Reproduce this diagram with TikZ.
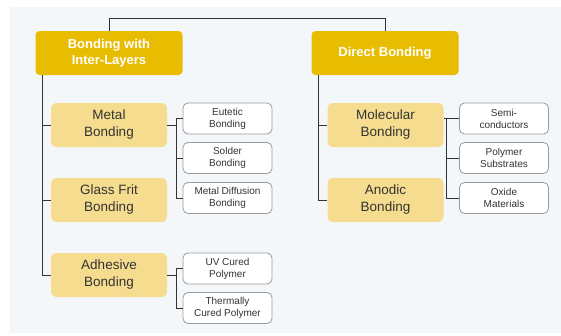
\documentclass[tikz,border=0pt]{standalone}
\usepackage{fontspec}
\setmainfont{Liberation Sans}
\definecolor{bgc}{HTML}{F4F7FA}
\definecolor{gold}{HTML}{E8BC00}
\definecolor{lgold}{HTML}{F5DC8E}
\definecolor{lnc}{HTML}{333333}
\definecolor{bdc}{HTML}{9A9A9A}
\definecolor{txc}{HTML}{333333}
\begin{document}
\begin{tikzpicture}[x=1pt,y=-1pt,
  topbox/.style={fill=gold,rounded corners=4pt,minimum width=147pt,minimum height=44pt,
    text=white,font=\fontsize{13}{16}\selectfont\bfseries,align=center,inner sep=0pt},
  midbox/.style={fill=lgold,rounded corners=5pt,minimum width=116pt,minimum height=44pt,
    text=txc,font=\fontsize{13.5}{17}\selectfont,align=center,inner sep=0pt},
  subbox/.style={fill=white,draw=bdc,line width=0.8pt,rounded corners=5pt,minimum width=89pt,minimum height=31pt,
    text=txc,font=\fontsize{10}{12}\selectfont,align=center,inner sep=0pt},
  conn/.style={draw=lnc,line width=0.9pt}]
\useasboundingbox (0,0) rectangle (561,335);
\fill[white] (0,0) rectangle (561,335);
\fill[bgc] (10,7) rectangle (561,333);
% top
\node[topbox] (il) at (109,53) {Bonding with\\Inter-Layers};
\node[topbox] (db) at (385,53) {Direct Bonding};
% mid left
\node[midbox] (mb) at (109,125) {Metal\\Bonding};
\node[midbox] (gf) at (109,200) {Glass Frit\\Bonding};
\node[midbox] (ab) at (109,275) {Adhesive\\Bonding};
% mid right
\node[midbox] (mo) at (385.5,125) {Molecular\\Bonding};
\node[midbox] (an) at (385.5,200) {Anodic\\Bonding};
% subs left
\node[subbox] (eu) at (227.5,118.5) {Eutetic\\Bonding};
\node[subbox] (so) at (227.5,158) {Solder\\Bonding};
\node[subbox] (md) at (227.5,198) {Metal Diffusion\\Bonding};
\node[subbox] (uv) at (227.5,268.5) {UV Cured\\Polymer};
\node[subbox] (tc) at (227.5,308) {Thermally\\Cured Polymer};
% subs right
\node[subbox] (sc) at (504,118.5) {Semi-\\conductors};
\node[subbox] (ps) at (504,158) {Polymer\\Substrates};
\node[subbox] (om) at (504,198) {Oxide\\Materials};
% coordinates
\coordinate (tl) at (109,18);
\coordinate (tr) at (385,18);
\coordinate (ltr) at (42,75);
\coordinate (rtr) at (318,75);
\coordinate (lb) at (176,0);
\coordinate (rb) at (446,0);
% top connector
\draw[conn] (il.north) -- (il.north |- tl) -- (db.north |- tr) -- (db.north);
% left trunk
\draw[conn] (il.south -| ltr) -- (ab.west -| ltr) -- (ab.west);
\draw[conn] (mb.west -| ltr) -- (mb.west);
\draw[conn] (gf.west -| ltr) -- (gf.west);
% right trunk
\draw[conn] (db.south -| rtr) -- (an.west -| rtr) -- (an.west);
\draw[conn] (mo.west -| rtr) -- (mo.west);
% metal bonding bracket
\draw[conn] (mb.east) -- (mb.east -| lb);
\draw[conn] (eu.west) -- (eu.west -| lb) -- (md.west -| lb) -- (md.west);
\draw[conn] (so.west -| lb) -- (so.west);
% adhesive bracket
\draw[conn] (ab.east) -- (ab.east -| lb);
\draw[conn] (uv.west) -- (uv.west -| lb) -- (tc.west -| lb) -- (tc.west);
% molecular bracket
\draw[conn] (sc.west) -- (sc.west -| mo.east);
\draw[conn] (sc.west -| rb) -- (om.west -| rb) -- (om.west);
\draw[conn] (ps.west -| rb) -- (ps.west);
\end{tikzpicture}
\end{document}
